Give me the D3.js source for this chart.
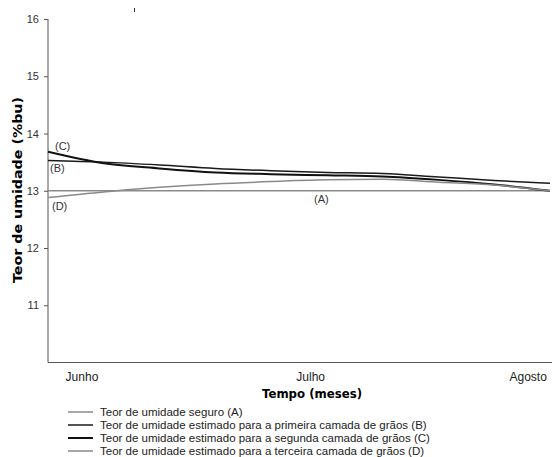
<!DOCTYPE html>
<html>
<head>
<meta charset="utf-8">
<script src="https://cdn.jsdelivr.net/npm/d3@7"></script>
<style>
  body { margin: 0; background: #fff; }
  svg { font-family: "Liberation Sans", Arial, sans-serif; }
</style>
</head>
<body>
<svg id="chart" width="552" height="457"></svg>
<script>
// days since start of June
const days = [0, 10, 20, 30, 40, 50, 60, 70, 80, 90];
const serieA = [13, 13, 13, 13, 13, 13, 13, 13, 13, 13];
const serieB = [13.53, 13.50, 13.45, 13.39, 13.35, 13.32, 13.30, 13.24, 13.18, 13.13];
const serieC = [13.68, 13.48, 13.39, 13.32, 13.29, 13.27, 13.25, 13.19, 13.11, 13.00];
const serieD = [12.88, 12.98, 13.06, 13.12, 13.16, 13.19, 13.20, 13.15, 13.10, 13.00];

const monthLabels = ['Junho', 'Julho', 'Agosto'];
const monthDays = [6, 47, 86];
const yTicks = [11, 12, 13, 14, 15, 16];

const legendLabels = [
  'Teor de umidade seguro (A)',
  'Teor de umidade estimado para a primeira camada de grãos (B)',
  'Teor de umidade estimado para a segunda camada de grãos (C)',
  'Teor de umidade estimado para a terceira camada de grãos (D)'
];

const series = [
  { id: 'A', values: serieA, color: '#8a8a8a', width: 1.5 },
  { id: 'B', values: serieB, color: '#1a1a1a', width: 1.5 },
  { id: 'C', values: serieC, color: '#111', width: 2 },
  { id: 'D', values: serieD, color: '#8a8a8a', width: 1.5 }
];

const svg = d3.select('#chart');

var x = d3.scaleLinear().domain([0, 90]).range([48, 550]);
var y = d3.scaleLinear().domain([10, 16]).range([362.5, 19]);

// y axis
var yAxis = svg.append('g')
  .attr('transform', 'translate(48,0)')
  .call(d3.axisLeft(y).tickValues(yTicks).tickFormat(d3.format('d')).tickSize(4).tickPadding(5));
yAxis.select('.domain').attr('stroke', '#555').attr('d', 'M0,' + y(16) + 'V' + y(10));
yAxis.selectAll('.tick line').attr('stroke', '#555');
yAxis.selectAll('text').attr('fill', '#333').style('font-size', '11px');

// x axis
var xAxis = svg.append('g')
  .attr('transform', 'translate(0,' + y(10) + ')')
  .call(d3.axisBottom(x).tickValues(monthDays)
    .tickFormat((d, i) => monthLabels[i]).tickSize(0).tickPadding(10));
xAxis.select('.domain').attr('stroke', '#555').attr('d', 'M48,0H552');
xAxis.selectAll('text').attr('fill', '#222').style('font-size', '12px');

// lines
var line = d3.line()
  .x((d, i) => x(days[i]))
  .y(d => y(d))
  .curve(d3.curveMonotoneX);

svg.selectAll('path.serie')
  .data(series)
  .enter()
  .append('path')
  .attr('class', 'serie')
  .attr('fill', 'none')
  .attr('stroke', d => d.color)
  .attr('stroke-width', d => d.width)
  .attr('d', d => line(d.values));

// series tags
var tags = [
  { t: '(C)', x: 55, y: 150 },
  { t: '(B)', x: 50, y: 172 },
  { t: '(D)', x: 52, y: 210 },
  { t: '(A)', x: 314, y: 203 }
];
svg.selectAll('text.tag')
  .data(tags)
  .enter()
  .append('text')
  .attr('class', 'tag')
  .attr('x', d => d.x)
  .attr('y', d => d.y)
  .attr('fill', '#333')
  .style('font-size', '11px')
  .text(d => d.t);

// axis titles
svg.append('text')
  .attr('transform', 'translate(22,190) rotate(-90)')
  .attr('text-anchor', 'middle')
  .attr('textLength', 186)
  .attr('lengthAdjust', 'spacingAndGlyphs')
  .style('font-family', '"DejaVu Sans", Verdana, sans-serif')
  .style('font-size', '12.5px')
  .style('font-weight', 'bold')
  .text('Teor de umidade (%bu)');

svg.append('text')
  .attr('x', 312)
  .attr('y', 398)
  .attr('text-anchor', 'middle')
  .attr('textLength', 100)
  .attr('lengthAdjust', 'spacingAndGlyphs')
  .style('font-family', '"DejaVu Sans", Verdana, sans-serif')
  .style('font-size', '11.5px')
  .style('font-weight', 'bold')
  .text('Tempo (meses)');

// small stray mark on top
svg.append('line')
  .attr('x1', 134.5).attr('x2', 134.5)
  .attr('y1', 8).attr('y2', 12)
  .attr('stroke', '#333');

// legend
var legend = svg.selectAll('g.leg')
  .data(series)
  .enter()
  .append('g')
  .attr('class', 'leg')
  .attr('transform', (d, i) => 'translate(68,' + (412 + i * 13) + ')');

legend.append('line')
  .attr('x1', 0).attr('x2', 25)
  .attr('stroke', d => d.color)
  .attr('stroke-width', d => d.width);

legend.append('text')
  .attr('x', 32)
  .attr('y', 4)
  .attr('fill', '#222')
  .style('font-size', '11.5px')
  .text((d, i) => legendLabels[i]);
</script>
</body>
</html>
